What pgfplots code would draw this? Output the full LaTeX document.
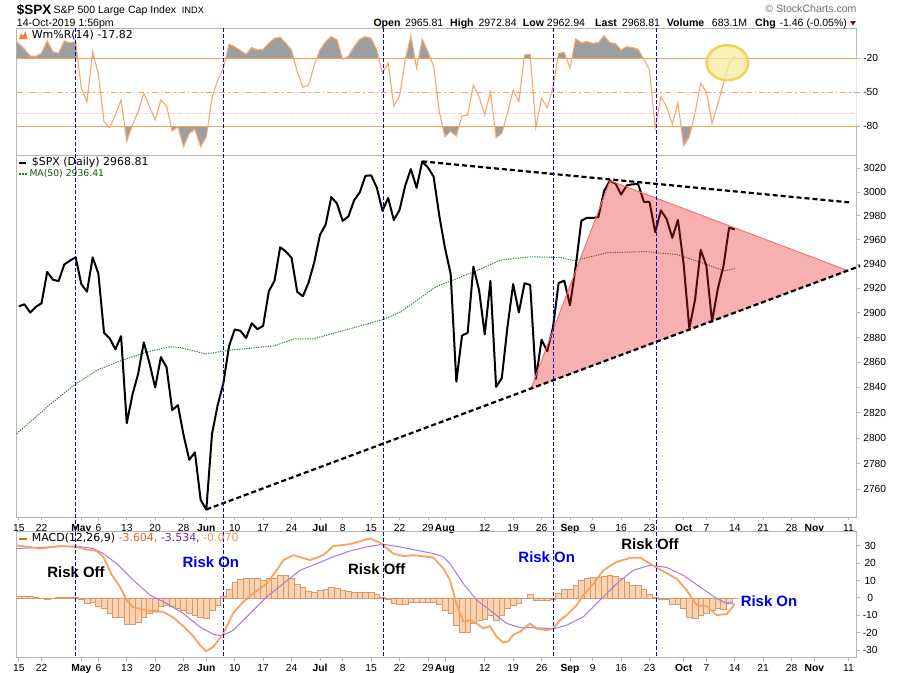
\documentclass[border=0pt]{standalone}
\usepackage{fontspec}
\setmainfont{Liberation Sans}
\newfontfamily\dv{DejaVu Sans}
\usepackage{pgfplots}
\pgfplotsset{compat=1.18}
\usepackage{pgfplotstable}

\definecolor{wrline}{RGB}{245,168,115}
\definecolor{wrlvl}{RGB}{247,162,92}
\definecolor{wrpink}{RGB}{245,205,205}
\definecolor{grayfill}{RGB}{158,158,158}
\definecolor{bord}{RGB}{182,182,182}
\definecolor{maclr}{RGB}{40,130,40}
\definecolor{matxt}{RGB}{0,100,0}
\definecolor{macdline}{RGB}{245,163,98}
\definecolor{sigline}{RGB}{170,122,215}
\definecolor{histfill}{RGB}{250,210,175}
\definecolor{histedge}{RGB}{212,155,112}
\definecolor{riskblue}{RGB}{0,0,230}
\definecolor{vblue}{RGB}{0,0,220}
\definecolor{trifill}{RGB}{232,29,29}
\definecolor{triedge}{RGB}{236,112,112}
\definecolor{circfill}{RGB}{248,236,160}
\definecolor{circedge}{RGB}{242,210,80}
\definecolor{chgred}{RGB}{130,20,20}
\definecolor{macdred}{RGB}{230,100,40}
\definecolor{macdpur}{RGB}{112,48,160}
\definecolor{macdorg}{RGB}{240,150,80}
\definecolor{scgray}{RGB}{110,110,110}
\definecolor{iconorg}{RGB}{240,130,60}

\newcommand\tickfont{\fontsize{10.3}{12}\selectfont}
\newcommand\hf{\fontsize{10.6}{12}\selectfont}
\newcommand\lgf{\dv\fontsize{11}{13}\selectfont}
\newcommand\riskf{\fontsize{15}{17}\selectfont\bfseries}

\pgfplotsset{panel/.style={scale only axis, width=840bp, xmin=-0.37, xmax=147.46,
  axis line style={bord, line width=1bp}, tick style={bord, line width=0.8bp},
  tick align=outside, major tick length=3bp, minor tick length=2bp,
  ytick pos=right, yticklabel pos=right, xtick pos=left,
  tick label style={font=\tickfont}}}

\pgfplotstableread{
i v
-0.37 -5.4
1 -12
2 -18
3 -18.3
4 -15.6
5 -4.7
6 -14.2
7 -15.6
8 -4.7
9 -6.5
10 -5.4
11 -46.5
12 -58.3
13 -14.2
14 -33.9
15 -75.9
16 -81.2
17 -70
18 -56.8
19 -93
20 -78.9
21 -67.1
22 -50.9
23 -62.7
24 -74.4
25 -56.8
26 -62.1
27 -84.1
28 -80.3
29 -98
30 -86.2
31 -82.6
32 -98
33 -89.2
34 -55
35 -39.2
36 -28.8
37 -7.6
38 -9.8
39 -13.3
40 -16.5
41 -10.6
42 -12.7
43 -12.1
44 -6.8
45 -2.4
46 -1.5
47 -6.8
48 -12.7
49 -31.8
50 -45.6
51 -43.8
52 -25.9
53 -12.7
54 -5.4
55 -0.9
56 -3.8
57 -20.9
58 -18.3
59 -9.8
60 -3.2
61 -0.9
62 -2.4
63 -12.7
64 -33.2
65 -24.4
66 -62.1
67 -53.3
68 -21.5
69 -0.3
70 -28.8
71 -3.2
72 -14.2
73 -26.8
74 -67.1
75 -89.2
76 -84.4
77 -88.6
78 -70.9
79 -70
80 -43.6
81 -53.9
82 -70
83 -49.5
84 -90
85 -86.2
86 -68.5
87 -48
88 -58.3
89 -17.1
90 -16.5
91 -81.2
92 -55.3
93 -63.6
94 -45.6
95 -15.6
96 -14.7
97 -28.8
98 -3
99 -6.2
100 -5.4
101 -6.8
102 -6.2
103 -0.1
104 -6.2
105 -7.1
106 -12.7
107 -9.8
108 -10.6
109 -12.1
110 -20.9
111 -30.3
112 -81.8
113 -53.9
114 -62.7
115 -78
116 -59.2
117 -97.1
118 -89.2
119 -68.5
120 -42.1
121 -49.5
122 -77.4
123 -60.6
124 -42.1
125 -24.4
126 -17.82
}\wrdata

\pgfplotstableread{
i c
0 2905.58
1 2907.06
2 2900.45
3 2905.03
4 2907.97
5 2933.68
6 2927.25
7 2926.17
8 2939.88
9 2943.03
10 2945.83
11 2923.73
12 2917.52
13 2945.64
14 2932.47
15 2884.05
16 2879.42
17 2870.72
18 2881.40
19 2811.87
20 2834.41
21 2850.96
22 2876.32
23 2859.53
24 2840.23
25 2864.36
26 2856.27
27 2822.24
28 2826.06
29 2802.39
30 2783.02
31 2788.86
32 2752.06
33 2744.45
34 2803.27
35 2826.15
36 2843.49
37 2873.34
38 2886.73
39 2885.72
40 2879.84
41 2891.64
42 2886.98
43 2889.67
44 2917.75
45 2926.46
46 2954.18
47 2950.46
48 2945.35
49 2917.38
50 2913.78
51 2924.92
52 2941.76
53 2964.33
54 2973.01
55 2995.82
56 2990.41
57 2975.95
58 2979.63
59 2993.07
60 2999.91
61 3013.77
62 3014.30
63 3004.04
64 2984.42
65 2995.11
66 2976.61
67 2985.03
68 3005.47
69 3019.56
70 3003.67
71 3025.86
72 3020.97
73 3013.18
74 2980.38
75 2953.56
76 2932.05
77 2844.74
78 2881.77
79 2883.98
80 2938.09
81 2918.65
82 2882.70
83 2926.32
84 2840.60
85 2847.60
86 2888.68
87 2923.65
88 2900.51
89 2924.43
90 2922.95
91 2847.11
92 2878.38
93 2869.16
94 2887.94
95 2924.58
96 2926.46
97 2906.27
98 2937.78
99 2976.00
100 2978.71
101 2978.43
102 2979.39
103 3000.93
104 3009.57
105 3007.39
106 2997.96
107 3005.70
108 3006.73
109 3006.79
110 2992.07
111 2991.78
112 2966.60
113 2984.87
114 2977.62
115 2961.79
116 2976.74
117 2940.25
118 2887.61
119 2910.63
120 2952.01
121 2938.79
122 2893.06
123 2919.40
124 2938.13
125 2970.27
126 2968.81
}\spx

\pgfplotstableread{
i m
-0.37 2803.5
5.0 2824.7
9.71 2842
13.8 2854
17.93 2861.5
22.5 2868.5
26.73 2872.8
28.49 2872
32.89 2867
36.99 2870
44.91 2873.5
48.43 2879
51.95 2879.2
59.57 2889
64.27 2895
67.21 2901
73.42 2921.5
80.11 2933.8
84.81 2943.4
90.09 2946.2
95.37 2945.5
97.71 2943
103.57 2949.5
110.38 2950.5
115.89 2948
120.59 2940.7
124.11 2934.6
126 2936.41
}\madata

\pgfplotstableread{
i h
0 1.2
1 1.2
2 0.8
3 0.3
4 -0.5
5 -0.7
6 -0.5
7 0.3
8 0.3
9 0.3
10 0.2
11 -1
12 -3
13 -2.5
14 -5
15 -6
16 -9
17 -11
18 -11
19 -15
20 -15
21 -14
22 -11
23 -9
24 -7
25 -5
26 -4
27 -5
28 -6
29 -7
30 -9
31 -10
32 -11
33 -11.5
34 -7
35 -4
36 1
37 5
38 9
39 10.5
40 11
41 11.3
42 11
43 10
44 11
45 11.5
46 13
47 13
48 11
49 8
50 6
51 4
52 3.5
53 4.5
54 5
55 6
56 5.5
57 4.5
58 4
59 3.5
60 3.5
61 3.5
62 3
63 2
64 0.5
65 -1
66 -3
67 -3.5
68 -3.5
69 -2.5
70 -2.5
71 -2.5
72 -2.5
73 -2.5
74 -3.5
75 -7
76 -9
77 -16
78 -19.5
79 -19.5
80 -14.7
81 -12.8
82 -12.3
83 -10
84 -12.8
85 -10
86 -6.1
87 -4.2
88 -3.3
89 -0.4
90 2.1
91 -1.3
92 -1.3
93 -1.5
94 -1
95 2.5
96 5
97 5
98 7
99 10
100 11.5
101 12
102 12
103 12.5
104 13
105 12.5
106 11
107 9
108 7.5
109 7
110 5
111 2
112 0.5
113 -1
114 -1
115 -3.5
116 -3.5
117 -6
118 -11
119 -12
120 -10
121 -9
122 -7
123 -6
124 -6.5
125 -2.5
126 -0.07
}\histdata

\pgfplotstableread{
i s
-0.37 28.4
5.49 29.3
10.07 29.8
13.11 28.4
14.87 25.5
17.23 19.7
20.15 10.2
23.09 1.6
26.03 -3.2
28.95 -9.0
31.89 -16.7
34.23 -20.9
35.71 -21.9
37.75 -18.6
40.69 -9.0
43.63 0.6
46.55 8.2
49.49 15.9
52.43 19.7
55.35 23.6
58.29 27
61.23 29.3
64.15 30.9
67.09 29.3
70.03 27.4
72.95 25.5
74.71 23.6
75.89 19.7
78.23 8.2
80.59 -1.3
82.93 -7.1
85.87 -14.7
88.21 -17
91.15 -17.2
94.07 -17.8
96.43 -15.7
99.35 -10.9
102.29 -1.3
105.23 8.2
108.16 15.9
111.09 18.8
114.03 17.5
116.95 13
119.89 6.3
122.83 -0.4
124.59 -3.2
126 -3.534
}\sigdata

\pgfplotstableread{
i m
-0.37 30.2
3.73 28.4
7.25 29.8
10.07 29.3
11.95 27.8
13.71 27.0
14.87 23.6
16.35 13.3
17.81 6.4
18.99 -1.3
20.15 -5.5
21.91 -6.7
23.67 -8.0
25.43 -8.0
27.19 -11.3
28.95 -16.3
30.71 -22
31.89 -27.2
32.95 -30.7
34.23 -28.2
35.99 -20.5
37.75 -8.6
39.51 -2.3
41.27 2.5
43.63 8.2
45.39 15.9
46.55 21.7
48.31 24.6
51.25 21.7
53.59 24.6
55.35 29.8
58.29 30.9
61.81 34.2
63.57 31.7
65.91 25.5
67.67 24
69.43 24.6
72.95 23.2
74.71 16.9
75.89 10.2
77 -3
78.23 -13.8
79.41 -12.8
80.59 -14.7
81.75 -17.6
82.93 -16.3
84.11 -22.4
85.27 -25.7
86.15 -24.9
87.03 -21.1
88.21 -19.5
89.97 -14.7
91.15 -17.6
92.91 -18.6
94.07 -17.6
95.25 -12.8
96.43 -9.9
98.19 -4.2
99.35 1.6
101.11 8.2
102.87 15.9
105.23 20.7
107.57 23
109.33 23.2
111.09 19.7
112.85 16.3
115.79 11
117.55 4.4
119.31 -4.2
121.07 -4.8
122.83 -9.9
124.59 -9.3
126 -3.604
}\macddata

\begin{document}
\begin{tikzpicture}
\useasboundingbox (0,0) rectangle (900bp,-673bp);
\fill[white] (0,0) rectangle (900bp,-673bp);

% ---------- Williams %R panel ----------
\begin{axis}[panel, at={(16.7bp,-28bp)}, anchor=north west, height=127bp,
  ymin=-105.3, ymax=6.7, ytick={-80,-50,-20}, yticklabels={-80,-50,-20},
  xtick=\empty, yticklabel style={anchor=center, xshift=11bp}]
\addplot[draw=none, fill=grayfill] table[x=i,y=v] {\wrdata} -- (axis cs:126,-20) -- (axis cs:-0.37,-20) -- cycle;
\fill[white] (axis cs:-0.37,-80) rectangle (axis cs:147.46,-20);
\draw[wrlvl, line width=1.2bp] (axis cs:-0.37,-20) -- (axis cs:147.46,-20);
\draw[wrlvl, line width=1.2bp] (axis cs:-0.37,-80) -- (axis cs:147.46,-80);
\draw[wrlvl, line width=1bp, dash pattern=on 6bp off 3bp on 1.5bp off 3bp] (axis cs:-0.37,-50) -- (axis cs:147.46,-50);
\draw[wrpink, line width=1bp, dash pattern=on 4bp off 3bp] (axis cs:-0.37,-68.3) -- (axis cs:147.46,-68.3);
\addplot[wrline, line width=1.1bp] table[x=i,y=v] {\wrdata};
\draw[circedge, line width=2.5bp, fill=circfill, fill opacity=0.75] (axis cs:124.7,-23.9) ellipse [x radius=20.8bp, y radius=17.5bp];
\end{axis}

% ---------- Price panel (log price scale: axis values are ln of price) ----------
\begin{axis}[panel, at={(16.7bp,-155bp)}, anchor=north west, height=362.3bp,
  ymin=7.91514, ymax=8.01674, clip=false,
  ytick={7.922986,7.930206,7.937375,7.944492,7.951559,7.958577,7.965546,7.972466,7.979339,7.986165,7.992945,7.999679,8.006368,8.013012},
  yticklabels={2760,2780,2800,2820,2840,2860,2880,2900,2920,2940,2960,2980,3000,3020},
  yticklabel style={anchor=center, xshift=15bp},
  xtick={0,4,11,14,19,24,29,33,38,43,48,53,57,62,67,72,75,82,87,92,97,101,106,111,117,121,126,131,136,140,146},
  xticklabels={15,22,\textbf{May},6,13,20,28,\textbf{Jun},10,17,24,\textbf{Jul},8,15,22,29,\textbf{Aug},12,19,26,\textbf{Sep},9,16,23,\textbf{Oct},7,14,21,28,\textbf{Nov},11},
  xticklabel style={anchor=base, yshift=-10.7bp}]
\addplot[maclr, line width=1bp, dash pattern=on 1.2bp off 1.2bp] table[x=i,y expr={ln(\thisrow{m})}] {\madata};
\addplot[black, line width=2bp, line join=round] table[x=i,y expr={ln(\thisrow{c})}] {\spx};
\addplot[draw=none, fill=trifill, fill opacity=0.35] coordinates {(90.1,7.9511719) (104.05,8.0095293) (145.9,7.9843265)} -- cycle;
\addplot[triedge, line width=0.9bp] coordinates {(90.1,7.9511719) (104.05,8.0095293) (145.9,7.9843265)};
\addplot[black, line width=2.2bp, dash pattern=on 5bp off 3bp] coordinates {(33,7.9173342) (148.05,7.9856209)};
\addplot[black, line width=2.2bp, dash pattern=on 5bp off 3bp] coordinates {(71,8.0149506) (146.1,8.0034634)};
\coordinate (b1) at (axis cs:9.94,7.97);
\coordinate (b2) at (axis cs:36.0,7.97);
\coordinate (b3) at (axis cs:64.15,7.97);
\coordinate (b4) at (axis cs:94.07,7.97);
\coordinate (b5) at (axis cs:112.3,7.97);
\end{axis}

% ---------- MACD panel ----------
\begin{axis}[panel, at={(16.7bp,-531.7bp)}, anchor=north west, height=126bp,
  ymin=-34.4, ymax=38.06, ytick={-30,-20,-10,0,10,20,30}, yticklabels={-30,-20,-10,0,10,20,30},
  yticklabel style={anchor=center, xshift=10.5bp},
  xtick={0,4,11,14,19,24,29,33,38,43,48,53,57,62,67,72,75,82,87,92,97,101,106,111,117,121,126,131,136,140,146},
  xticklabels={15,22,\textbf{May},6,13,20,28,\textbf{Jun},10,17,24,\textbf{Jul},8,15,22,29,\textbf{Aug},12,19,26,\textbf{Sep},9,16,23,\textbf{Oct},7,14,21,28,\textbf{Nov},11},
  xticklabel style={anchor=base, yshift=-10.6bp}]
\addplot[ybar, bar width=1, fill=histfill, draw=histedge, line width=0.6bp] table[x=i,y=h] {\histdata};
\addplot[sigline, line width=1bp] table[x=i,y=s] {\sigdata};
\addplot[macdline, line width=1.8bp, line join=round] table[x=i,y=m] {\macddata};
\end{axis}

% ---------- vertical blue markers ----------
\coordinate (T) at (0,-28bp);
\coordinate (B) at (0,-657.7bp);
\foreach \b in {b1,b2,b3,b4,b5}
  \draw[vblue, line width=1bp, dash pattern=on 4bp off 2bp] (\b |- T) -- (\b |- B);

% ---------- header ----------
\node[anchor=base west, inner sep=0, font=\fontsize{13.5}{15}\selectfont\bfseries] at (16.7bp,-14.3bp) {\$SPX};
\node[anchor=base west, inner sep=0, font=\hf] at (53.3bp,-13.3bp) {S\&P 500 Large Cap Index};
\node[anchor=base west, inner sep=0, font=\fontsize{9.3}{11}\selectfont] at (181.7bp,-13.3bp) {INDX};
\node[anchor=base west, inner sep=0, font=\hf] at (16.7bp,-26bp) {14-Oct-2019 1:56pm};
\node[anchor=base east, inner sep=0, font=\hf, text=scgray] at (856.7bp,-12.5bp) {© StockCharts.com};
\node[anchor=base west, inner sep=0, font=\hf\bfseries] at (373.3bp,-26bp) {Open};
\node[anchor=base west, inner sep=0, font=\hf] at (405bp,-26bp) {2965.81};
\node[anchor=base west, inner sep=0, font=\hf\bfseries] at (450bp,-26bp) {High};
\node[anchor=base west, inner sep=0, font=\hf] at (478.3bp,-26bp) {2972.84};
\node[anchor=base west, inner sep=0, font=\hf\bfseries] at (522.7bp,-26bp) {Low};
\node[anchor=base west, inner sep=0, font=\hf] at (546.7bp,-26bp) {2962.94};
\node[anchor=base west, inner sep=0, font=\hf\bfseries] at (595bp,-26bp) {Last};
\node[anchor=base west, inner sep=0, font=\hf] at (621.7bp,-26bp) {2968.81};
\node[anchor=base west, inner sep=0, font=\hf\bfseries] at (666.7bp,-26bp) {Volume};
\node[anchor=base west, inner sep=0, font=\hf] at (711.7bp,-26bp) {683.1M};
\node[anchor=base west, inner sep=0, font=\hf\bfseries] at (755bp,-26bp) {Chg};
\node[anchor=base west, inner sep=0, font=\hf] at (779.3bp,-26bp) {-1.46 (-0.05\%)};
\fill[chgred] (850bp,-21bp) -- (856bp,-21bp) -- (853bp,-25.5bp) -- cycle;

% ---------- legends ----------
\fill[iconorg] (19bp,-39bp) -- (21bp,-33bp) -- (23bp,-36bp) -- (25.5bp,-31bp) -- (27.5bp,-39bp) -- cycle;
\node[anchor=base west, inner sep=0, font=\lgf] at (31.7bp,-38bp) {Wm\%R(14) -17.82};
\draw[black, line width=2bp] (19bp,-162.5bp) -- (26bp,-162.5bp);
\node[anchor=base west, inner sep=0, font=\lgf] at (31.7bp,-165.9bp) {\$SPX (Daily) 2968.81};
\draw[maclr, line width=1.5bp, dash pattern=on 1.5bp off 1.5bp] (19bp,-174bp) -- (28bp,-174bp);
\node[anchor=base west, inner sep=0, font=\dv\fontsize{9.3}{11}\selectfont, text=matxt] at (29.3bp,-176.6bp) {MA(50) 2936.41};
\draw[macdred, line width=2bp] (19bp,-538.5bp) -- (27bp,-538.5bp);
\node[anchor=base west, inner sep=0, font=\lgf] at (31.7bp,-541.6bp) {MACD(12,26,9) \textcolor{macdred}{-3.604,} \textcolor{macdpur}{-3.534,} \textcolor{macdorg}{-0.070}};

% ---------- annotations ----------
\node[font=\riskf, text=black, inner sep=0] at (76bp,-572bp) {Risk Off};
\node[font=\riskf, text=riskblue, inner sep=0] at (210.8bp,-562.5bp) {Risk On};
\node[font=\riskf, text=black, inner sep=0] at (376.7bp,-569.5bp) {Risk Off};
\node[font=\riskf, text=riskblue, inner sep=0] at (546.7bp,-557.5bp) {Risk On};
\node[font=\riskf, text=black, inner sep=0] at (650bp,-544bp) {Risk Off};
\node[font=\riskf, text=riskblue, inner sep=0] at (769bp,-601bp) {Risk On};
\end{tikzpicture}
\end{document}
